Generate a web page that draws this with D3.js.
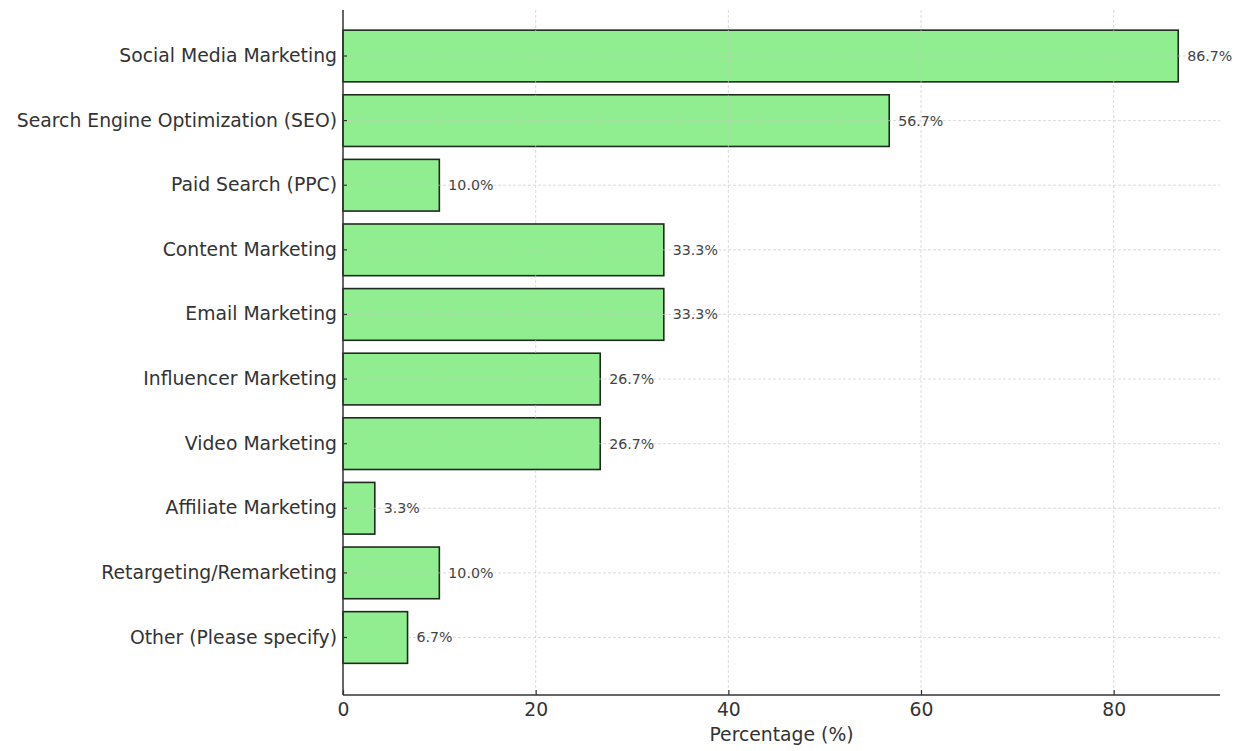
<!DOCTYPE html>
<html>
<head>
<meta charset="utf-8">
<script src="https://cdn.jsdelivr.net/npm/d3@7"></script>
<style>
  html, body { margin: 0; padding: 0; background: #fff; }
  svg { display: block; }
  text { font-family: "DejaVu Sans", sans-serif; }
</style>
</head>
<body>
<svg id="chart" width="1243" height="751"></svg>
<script>
// Share of respondents using each marketing channel
const channels = [
  "Social Media Marketing",
  "Search Engine Optimization (SEO)",
  "Paid Search (PPC)",
  "Content Marketing",
  "Email Marketing",
  "Influencer Marketing",
  "Video Marketing",
  "Affiliate Marketing",
  "Retargeting/Remarketing",
  "Other (Please specify)"
];
const percentages = [86.7, 56.7, 10.0, 33.3, 33.3, 26.7, 26.7, 3.3, 10.0, 6.7];
const xTicks = [0, 20, 40, 60, 80];
const xLabel = "Percentage (%)";

const svg = d3.select("#chart");
const left = 343, right = 1220, bottom = 695, plotTop = 10;
const labelSize = 18.8;

const x = d3.scaleLinear()
  .domain([0, d3.max(percentages) * 1.05])
  .range([left, right]);

const y = d3.scaleBand()
  .domain(channels)
  .range([-1.5, bottom])
  .paddingInner(0.2)
  .paddingOuter(0.49);

const grid = "#c8c8c8";

// bars
svg.append("g")
  .selectAll("rect")
  .data(channels)
  .join("rect")
  .attr("x", x(0))
  .attr("y", d => y(d))
  .attr("width", (d, i) => x(percentages[i]) - x(0))
  .attr("height", y.bandwidth())
  .attr("fill", "#90ee90")
  .attr("stroke", "#1f2a1f")
  .attr("stroke-width", 1.6);

// dashed grid, drawn lightly over the bars
const g = svg.append("g").attr("stroke", grid).attr("stroke-width", 0.8)
  .attr("stroke-dasharray", "3,2").attr("opacity", 0.8);
g.selectAll("line.v").data(xTicks.slice(1)).join("line")
  .attr("x1", d => x(d)).attr("x2", d => x(d))
  .attr("y1", plotTop).attr("y2", bottom);
g.selectAll("line.h").data(channels).join("line")
  .attr("x1", left).attr("x2", right)
  .attr("y1", d => y(d) + y.bandwidth() / 2)
  .attr("y2", d => y(d) + y.bandwidth() / 2);

// value labels
svg.append("g")
  .selectAll("text")
  .data(channels)
  .join("text")
  .attr("x", (d, i) => x(percentages[i]) + 9)
  .attr("y", d => y(d) + y.bandwidth() / 2)
  .attr("dy", "0.35em")
  .attr("font-size", 14.2)
  .attr("fill", "#444")
  .text((d, i) => percentages[i].toFixed(1) + "%");

// x axis
const xAxis = svg.append("g")
  .attr("transform", `translate(0,${bottom})`)
  .call(d3.axisBottom(x).tickValues(xTicks).tickSize(-5).tickPadding(8).tickFormat(d3.format("d")));
xAxis.select(".domain").remove();
xAxis.selectAll(".tick line").attr("stroke", "#333").attr("stroke-width", 1.2);
xAxis.selectAll("text").attr("font-size", labelSize).attr("fill", "#333")
  .attr("font-family", "DejaVu Sans, sans-serif");

// y axis
const yAxis = svg.append("g")
  .attr("transform", `translate(${left},0)`)
  .call(d3.axisLeft(y).tickSize(-4).tickPadding(6));
yAxis.select(".domain").remove();
yAxis.selectAll(".tick line").attr("stroke", "#333").attr("stroke-width", 1.2);
yAxis.selectAll("text").attr("font-size", labelSize).attr("fill", "#333")
  .attr("font-family", "DejaVu Sans, sans-serif");

// spines
svg.append("line").attr("x1", left).attr("x2", left).attr("y1", plotTop).attr("y2", bottom)
  .attr("stroke", "#333").attr("stroke-width", 1.5);
svg.append("line").attr("x1", left).attr("x2", right).attr("y1", bottom).attr("y2", bottom)
  .attr("stroke", "#333").attr("stroke-width", 1.5);

// axis title
svg.append("text")
  .attr("x", (left + right) / 2)
  .attr("y", 741)
  .attr("text-anchor", "middle")
  .attr("font-size", labelSize)
  .attr("fill", "#333")
  .text(xLabel);
</script>
</body>
</html>
